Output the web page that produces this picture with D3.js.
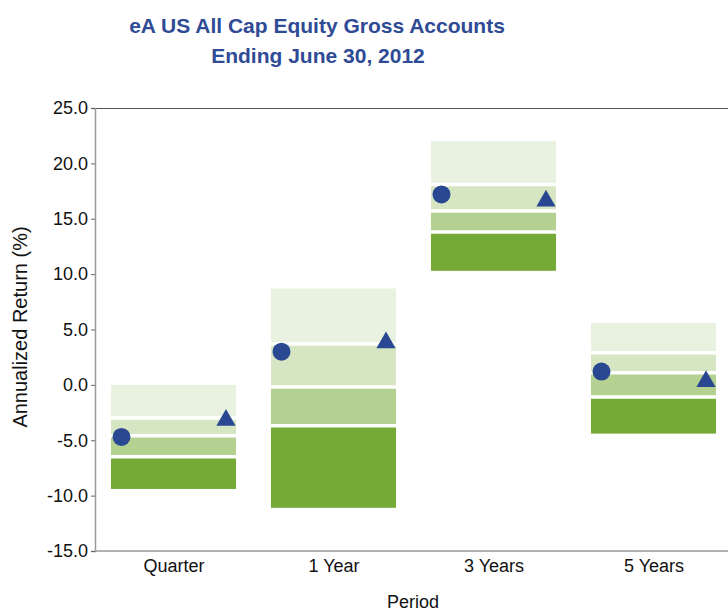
<!DOCTYPE html>
<html>
<head>
<meta charset="utf-8">
<script src="https://cdn.jsdelivr.net/npm/d3@7"></script>
<style>
  body { margin: 0; background: #fff; }
  svg { display: block; font-family: "Liberation Sans", Arial, sans-serif; }
</style>
</head>
<body>
<svg id="chart" width="728" height="611"></svg>
<script>
// periods and percentile breakpoints (top of box = 5th percentile, bottom = 95th)
var periods = ["Quarter", "1 Year", "3 Years", "5 Years"];
var pctTop = [0.0, 8.7, 22.0, 5.6];
var pct25 = [-3.0, 3.7, 18.1, 2.9];
var pctMed = [-4.6, -0.2, 15.7, 1.1];
var pct75 = [-6.5, -3.7, 13.8, -1.1];
var pctBottom = [-9.4, -11.1, 10.3, -4.4];
var circleVals = [-4.7, 3.0, 17.2, 1.2];
var triangleVals = [-3.1, 3.9, 16.7, 0.4];
var yTicks = [-15, -10, -5, 0, 5, 10, 15, 20, 25];

var svg = d3.select("#chart");

var x = d3.scalePoint().domain(periods).range([173.5, 653.5]);
var y = d3.scaleLinear().domain([-15, 25]).range([551, 108]);
var boxW = 125;

var bandColors = ["#e9f1e0", "#d6e5c2", "#b5d192", "#75aa37"];

var rows = periods.map(function (p, i) {
  return { period: p, cuts: [pctTop[i], pct25[i], pctMed[i], pct75[i], pctBottom[i]],
           circle: circleVals[i], tri: triangleVals[i] };
});

// title
svg.append("text")
  .attr("x", 317).attr("y", 33)
  .attr("text-anchor", "middle")
  .style("font-size", "21px").style("font-weight", "bold").style("fill", "#2f4b95")
  .text("eA US All Cap Equity Gross Accounts");
svg.append("text")
  .attr("x", 318).attr("y", 63)
  .attr("text-anchor", "middle")
  .style("font-size", "21px").style("font-weight", "bold").style("fill", "#2f4b95")
  .text("Ending June 30, 2012");

// boxes
var g = svg.append("g");
rows.forEach(function (r) {
  var left = x(r.period) - boxW / 2;
  for (var k = 0; k < 4; k++) {
    g.append("rect")
      .attr("x", left)
      .attr("y", y(r.cuts[k]))
      .attr("width", boxW)
      .attr("height", y(r.cuts[k + 1]) - y(r.cuts[k]))
      .style("fill", bandColors[k]);
  }
  // white separators
  for (var k = 1; k < 4; k++) {
    g.append("line")
      .attr("x1", left).attr("x2", left + boxW)
      .attr("y1", y(r.cuts[k])).attr("y2", y(r.cuts[k]))
      .style("stroke", "#fff").style("stroke-width", 3.5);
  }
});

// markers
svg.selectAll("circle.mk")
  .data(rows).enter().append("circle")
  .attr("class", "mk")
  .attr("cx", function (d) { return x(d.period) - 52; })
  .attr("cy", function (d) { return y(d.circle); })
  .attr("r", 9)
  .style("fill", "#2a4892");

svg.selectAll("path.tri")
  .data(rows).enter().append("path")
  .attr("class", "tri")
  .attr("d", d3.symbol().type(d3.symbolTriangle).size(160))
  .attr("transform", function (d) {
    return "translate(" + (x(d.period) + 52.5) + "," + (y(d.tri) + 1) + ")";
  })
  .style("fill", "#2a4892");

// frame lines
svg.append("line").attr("x1", 95).attr("x2", 728).attr("y1", 108.5).attr("y2", 108.5)
  .style("stroke", "#555").style("stroke-width", 1);
svg.append("line").attr("x1", 95).attr("x2", 728).attr("y1", 551).attr("y2", 551)
  .style("stroke", "#999").style("stroke-width", 1.5);

// y axis
var yAxis = svg.append("g")
  .attr("transform", "translate(95,0)")
  .call(d3.axisLeft(y).tickValues(yTicks).tickSize(4).tickPadding(3)
    .tickFormat(function (d) { return d.toFixed(1); }));
yAxis.select(".domain").style("stroke", "#999").style("stroke-width", 1.5);
yAxis.selectAll(".tick line").style("stroke", "#666");
yAxis.selectAll("text").style("font-size", "18px").style("fill", "#111")
  .style("font-family", "'Liberation Sans', Arial, sans-serif");

// x labels
var xAxis = svg.append("g")
  .attr("transform", "translate(0,551)")
  .call(d3.axisBottom(x).tickSize(0).tickPadding(8));
xAxis.select(".domain").remove();
xAxis.selectAll("text").style("font-size", "18px").style("fill", "#111")
  .style("font-family", "'Liberation Sans', Arial, sans-serif");

// axis titles
svg.append("text")
  .attr("transform", "translate(27,327) rotate(-90)")
  .attr("text-anchor", "middle")
  .style("font-size", "20px").style("fill", "#111")
  .text("Annualized Return (%)");
svg.append("text")
  .attr("x", 413).attr("y", 608)
  .attr("text-anchor", "middle")
  .style("font-size", "18px").style("fill", "#111")
  .text("Period");
</script>
</body>
</html>
